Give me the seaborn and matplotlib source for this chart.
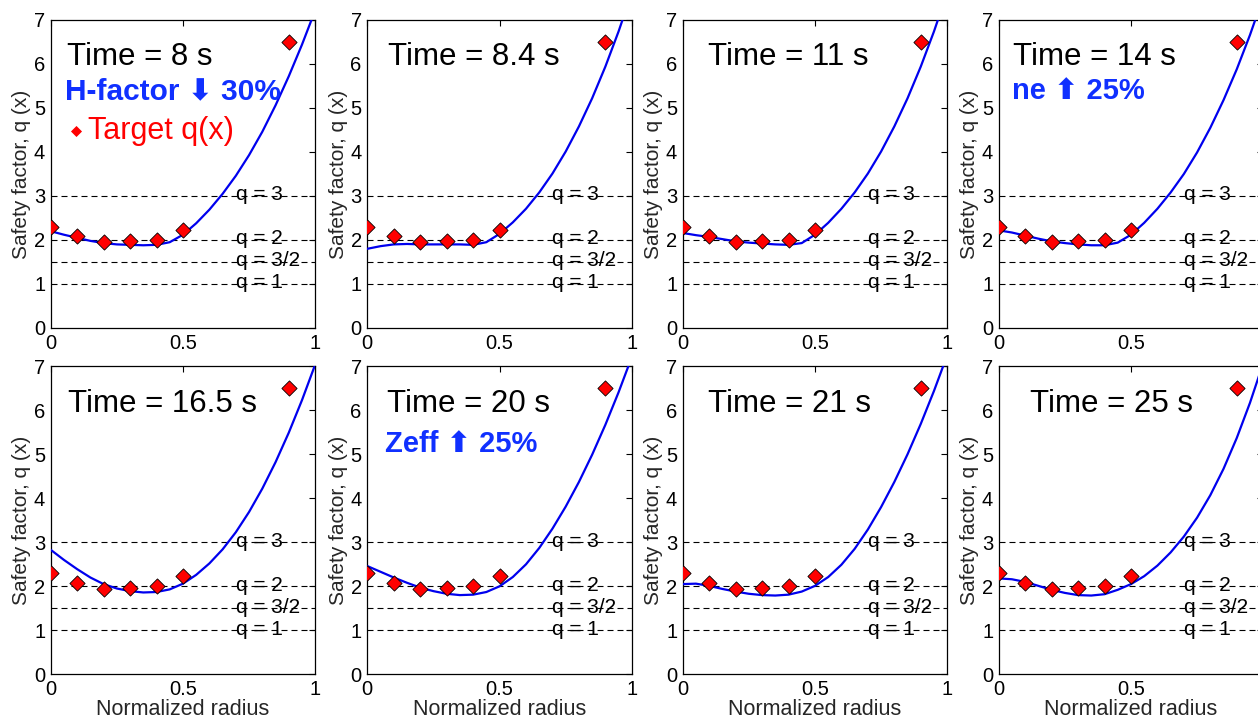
import numpy as np
import pandas as pd
import seaborn as sns
from matplotlib import pyplot as plt

sns.set_theme(style="white")
plt.rcParams['font.family'] = ['Liberation Sans', 'DejaVu Sans']

# target profile (same in every panel)
target_x = [0, 0.1, 0.2, 0.3, 0.4, 0.5, 0.9]
target_q = [2.3, 2.08, 1.95, 1.97, 2.0, 2.23, 6.5]

# radius grid the simulated q profiles are read at
radius = [0, 0.05, 0.1, 0.15, 0.2, 0.25, 0.3, 0.35, 0.4, 0.45, 0.5,
          0.55, 0.6, 0.65, 0.7, 0.75, 0.8, 0.85, 0.9, 0.95, 1.0]

q_8s = [2.2, 2.12, 2.05, 1.98, 1.93, 1.9, 1.89, 1.88, 1.89, 1.95, 2.12,
        2.38, 2.69, 3.05, 3.46, 3.93, 4.46, 5.06, 5.72, 6.44, 7.22]
q_8_4s = [1.8, 1.86, 1.9, 1.91, 1.9, 1.9, 1.9, 1.9, 1.89, 1.95, 2.14,
          2.4, 2.71, 3.08, 3.51, 4.01, 4.58, 5.22, 5.94, 6.74, 7.62]
q_11s = [2.16, 2.11, 2.07, 2.02, 1.97, 1.94, 1.92, 1.9, 1.89, 1.93, 2.12,
         2.39, 2.71, 3.08, 3.51, 4.01, 4.58, 5.22, 5.94, 6.74, 7.62]
q_14s = [2.22, 2.17, 2.1, 2.03, 1.97, 1.93, 1.9, 1.88, 1.88, 1.94, 2.12,
         2.39, 2.71, 3.08, 3.5, 3.99, 4.55, 5.18, 5.88, 6.66, 7.52]
q_16_5s = [2.83, 2.6, 2.39, 2.2, 2.05, 1.95, 1.89, 1.86, 1.87, 1.93, 2.06,
           2.26, 2.52, 2.84, 3.23, 3.69, 4.22, 4.82, 5.49, 6.23, 7.04]
q_20s = [2.46, 2.33, 2.2, 2.08, 1.97, 1.89, 1.83, 1.8, 1.81, 1.87, 2.0,
         2.21, 2.5, 2.87, 3.31, 3.81, 4.37, 4.99, 5.67, 6.41, 7.21]
q_21s = [2.05, 2.06, 2.01, 1.94, 1.88, 1.83, 1.8, 1.79, 1.81, 1.88, 2.01,
         2.21, 2.49, 2.85, 3.29, 3.8, 4.37, 5.0, 5.69, 6.44, 7.25]
q_25s = [2.18, 2.16, 2.1, 2.01, 1.92, 1.85, 1.8, 1.79, 1.82, 1.92, 2.05,
         2.23, 2.47, 2.77, 3.13, 3.56, 4.07, 4.67, 5.37, 6.17, 7.07]

profiles = [q_8s, q_8_4s, q_11s, q_14s, q_16_5s, q_20s, q_21s, q_25s]
titles = ["Time = 8 s", "Time = 8.4 s", "Time = 11 s", "Time = 14 s",
          "Time = 16.5 s", "Time = 20 s", "Time = 21 s", "Time = 25 s"]
notes = {0: "H-factor \u2b07 30%", 3: "ne \u2b06 25%", 5: "Zeff \u2b06 25%"}

rational_q = [3, 2, 1.5, 1]
rational_labels = ["q = 3", "q = 2", "q = 3/2", "q = 1"]

# layout (pixels of the 1258x723 canvas)
col_left = [50.7, 367.3, 682.7, 998.7]
row_bottom = [328, 674.3]
title_x = [0.06, 0.078, 0.096, 0.055, 0.066, 0.073, 0.096, 0.12]

W, H = 1258, 723
fig = plt.figure(figsize=(W / 100, H / 100), dpi=100)

for i, qp in enumerate(profiles):
    r, c = divmod(i, 4)
    ax = fig.add_axes([col_left[c] / W, 1 - row_bottom[r] / H, 264.5 / W, 308 / H])

    for qv, lab in zip(rational_q, rational_labels):
        ax.axhline(qv, color="black", lw=0.8, ls=(0, (5.4, 3.6)), zorder=1)
        ax.text(0.7, qv - 0.1, lab, fontsize=15, color="black", va="baseline", zorder=2)

    sns.lineplot(x=radius, y=qp, ax=ax, color="#0000ee", lw=1.6, sort=False, zorder=3)
    sns.scatterplot(x=target_x, y=target_q, ax=ax, marker="D", s=60, color="red",
                    edgecolor="black", linewidth=0.6, zorder=4,
                    label="Target q(x)" if i == 0 else None, legend=False)

    ax.set_xlim(0, 1)
    ax.set_ylim(0, 7)
    ax.set_xticks([0, 0.5, 1])
    # the right edge of the last column falls outside the canvas
    ax.set_xticklabels(["0", "0.5", "" if c == 3 else "1"])
    ax.set_yticks(range(8))
    ax.tick_params(direction="in", top=True, right=True, length=4, width=0.8,
                   labelsize=14.5, pad=4, colors="black")
    for sp in ax.spines.values():
        sp.set_color("black")
        sp.set_linewidth(0.9)
    ax.set_ylabel("Safety factor, q (x)", fontsize=15, labelpad=2)
    if r == 1:
        ax.set_xlabel("Normalized radius", fontsize=15.5, labelpad=0)
    else:
        ax.set_xlabel("")

    ax.text(title_x[i], 5.97, titles[i], fontsize=22.5, color="black", va="baseline")
    if i in notes:
        ax.text(title_x[i] - 0.005, 5.2 if r == 0 else 5.06, notes[i], fontsize=21.5 if i == 0 else 21,
                fontweight="bold", color="#1030ff", va="baseline",
                family=['Liberation Sans', 'DejaVu Sans'])

    if i == 0:
        leg = ax.legend(loc="center left", bbox_to_anchor=(0.067, 0.64), frameon=False,
                        fontsize=22, handlelength=0.5, handletextpad=0.13,
                        borderpad=0, borderaxespad=0, markerscale=0.65)
        for t in leg.get_texts():
            t.set_color("red")
        leg.legend_handles[0].set_edgecolor("red")

fig.savefig("out.png", dpi=100)
